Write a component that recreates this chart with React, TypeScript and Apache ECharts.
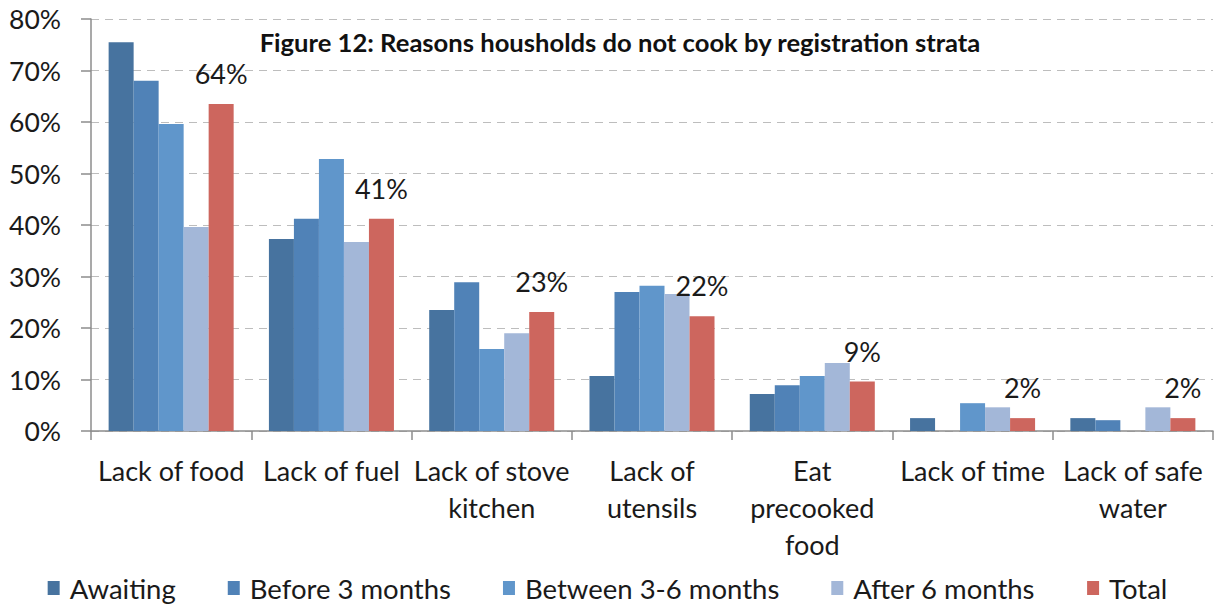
import React, { useEffect, useRef } from "react";
import * as echarts from "echarts";

const categories = [
  "Lack of food",
  "Lack of fuel",
  "Lack of stove\nkitchen",
  "Lack of\nutensils",
  "Eat\nprecooked\nfood",
  "Lack of time",
  "Lack of safe\nwater",
];
const awaiting = [75.5, 37.3, 23.5, 10.7, 7.2, 2.5, 2.5];
const before3 = [68.0, 41.2, 28.9, 27.0, 8.9, 0, 2.1];
const between36 = [59.6, 52.8, 15.9, 28.2, 10.7, 5.4, 0];
const after6 = [39.6, 36.7, 19.0, 26.6, 13.2, 4.6, 4.6];
const total = [63.5, 41.2, 23.1, 22.3, 9.6, 2.5, 2.5];
const totalLabels = ["64%", "41%", "23%", "22%", "9%", "2%", "2%"];
const seriesNames = ["Awaiting", "Before 3 months", "Between 3-6 months", "After 6 months", "Total"];
const seriesColors = ["#47739F", "#5082B7", "#6096CB", "#A3B7D8", "#CD665E"];
const yTicks = { min: 0, max: 80, interval: 10 };
const titleText = "Figure 12: Reasons housholds do not cook by registration strata";

const FONT = "Lato, 'Open Sans', sans-serif";

export default function App() {
  const ref = useRef<HTMLDivElement>(null);
  useEffect(() => {
    if (!ref.current) return;
    const chart = echarts.init(ref.current, undefined, { renderer: "svg" });
    const datasets = [awaiting, before3, between36, after6, total];
    chart.setOption({
      animation: false,
      textStyle: { fontFamily: FONT },
      title: {
        text: titleText,
        left: 615,
        textAlign: "center",
        top: 24,
        textStyle: { fontFamily: FONT, fontSize: 25.6, fontWeight: "bold", color: "#111" },
      },
      grid: { left: 91, right: 2, top: 19, bottom: 173, containLabel: false },
      legend: {
        data: seriesNames,
        top: 574,
        left: "center",
        padding: 0,
        icon: "rect",
        itemWidth: 12,
        itemHeight: 14,
        itemGap: 52,
        textStyle: {
          fontFamily: FONT,
          fontSize: 27.5,
          lineHeight: 28,
          color: "#1a1a1a",
          padding: [0, 0, 0, 5],
        },
      },
      xAxis: {
        type: "category",
        data: categories,
        axisLine: { show: true, lineStyle: { color: "#8c8c8c", width: 1.5 } },
        axisTick: { show: true, length: 9, lineStyle: { color: "#8c8c8c", width: 1.5 } },
        axisLabel: {
          fontFamily: FONT,
          fontSize: 27,
          color: "#1a1a1a",
          margin: 21,
          lineHeight: 37,
          interval: 0,
        },
      },
      yAxis: {
        type: "value",
        min: yTicks.min,
        max: yTicks.max,
        interval: yTicks.interval,
        axisLine: { show: true, lineStyle: { color: "#8c8c8c", width: 1.5 } },
        axisTick: { show: true, length: 10, lineStyle: { color: "#8c8c8c", width: 1.5 } },
        axisLabel: {
          formatter: "{value}%",
          fontFamily: FONT,
          fontSize: 26.5,
          color: "#1a1a1a",
          margin: 30,
        },
        splitLine: { show: true, lineStyle: { color: "#bdbdbd", type: [8, 6], width: 1.2 } },
      },
      series: datasets.map((d, i) => ({
        name: seriesNames[i],
        type: "bar",
        data: d,
        barGap: "0%",
        barCategoryGap: "22%",
        itemStyle: { color: seriesColors[i] },
        label:
          i === 4
            ? {
                show: true,
                position: "top",
                distance: 17,
                formatter: (p: any) => totalLabels[p.dataIndex],
                fontFamily: FONT,
                fontSize: 27,
                color: "#1a1a1a",
              }
            : { show: false },
      })),
    });
    return () => chart.dispose();
  }, []);
  return (
    <div
      ref={ref}
      style={{ position: "absolute", left: 0, top: 0, width: 1215, height: 604, background: "#fff" }}
    />
  );
}
